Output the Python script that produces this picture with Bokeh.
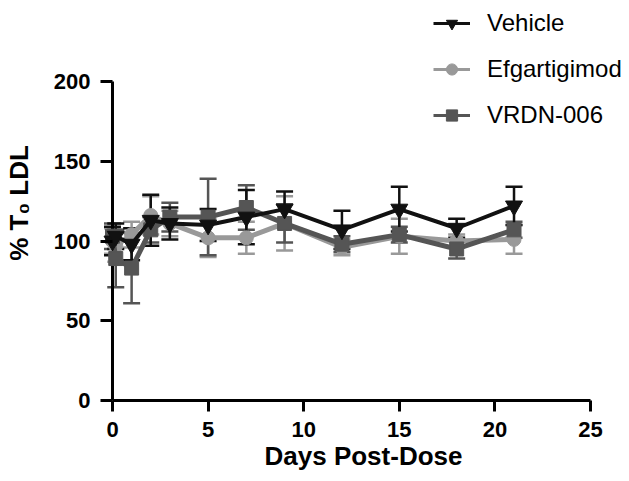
from bokeh.plotting import figure
from bokeh.models import Range1d, ColumnDataSource, Whisker, TeeHead, Legend, LegendItem
from bokeh.embed import file_html
from bokeh.resources import INLINE

days = [0, 0.17, 1, 2, 3, 5, 7, 9, 12, 15, 18, 21]

vehicle = [100, 103, 98, 113, 111, 110, 115, 120, 107, 120, 108, 122]
vehicle_err = [9, 8, 10, 16, 10, 10, 17, 11, 12, 14, 6, 12]

efgartigimod = [100, 97, 104, 116, 111, 102, 102, 111, 96, 103, 100, 101]
efgartigimod_err = [8, 10, 8, 12, 8, 12, 10, 17, 5, 11, 4, 9]

vrdn = [103, 89, 83, 107, 115, 115, 121, 111, 98, 104, 95, 107]
vrdn_err = [8, 18, 22, 8, 9, 24, 14, 12, 5, 5, 6, 5]

series_names = ["Vehicle", "Efgartigimod", "VRDN-006"]
x_ticks = [0, 5, 10, 15, 20, 25]
y_ticks = [0, 50, 100, 150, 200]

FONT = "Liberation Sans"

p = figure(frame_width=526, frame_height=395,
           x_range=Range1d(-0.6276, 26.883), y_range=Range1d(0, 247.65),
           min_border_left=100, min_border_right=0, min_border_top=5, min_border_bottom=78,
           output_backend="svg", toolbar_location=None)
p.outline_line_color = None
p.xgrid.visible = False
p.ygrid.visible = False

for ax in (p.xaxis, p.yaxis):
    ax.axis_line_width = 3
    ax.axis_line_color = "black"
    ax.major_tick_line_width = 3
    ax.major_tick_line_color = "black"
    ax.minor_tick_line_color = None
    ax.major_label_text_font = FONT
    ax.major_label_text_font_style = "bold"
    ax.major_label_text_font_size = "22px"
    ax.major_label_text_color = "black"
    ax.axis_label_text_font = FONT
    ax.axis_label_text_font_style = "bold"
    ax.axis_label_text_font_size = "26px"
    ax.axis_label_text_color = "black"

p.xaxis.ticker = x_ticks
p.yaxis.ticker = y_ticks
p.xaxis.bounds = (x_ticks[0], x_ticks[-1])
p.yaxis.bounds = (y_ticks[0], y_ticks[-1])
p.xaxis.major_tick_out = 11
p.xaxis.major_tick_in = 0
# y ticks reach from the frame edge to the axis line drawn at x = 0
p.yaxis.major_tick_out = 0
p.yaxis.major_tick_in = 12
p.yaxis.axis_line_color = None
p.xaxis.axis_label = "Days Post-Dose"
p.yaxis.axis_label = "% T\u2080 LDL"
p.xaxis.major_label_standoff = 10
p.yaxis.major_label_standoff = 10
p.xaxis.axis_label_standoff = 1
p.yaxis.axis_label_standoff = 17

# y axis line at x = 0
p.segment(x0=[x_ticks[0]], y0=[y_ticks[0]], x1=[x_ticks[0]], y1=[y_ticks[-1]],
          line_color="black", line_width=3)

colors = ["#111111", "#999999", "#555555"]
vals = [vehicle, efgartigimod, vrdn]
errs = [vehicle_err, efgartigimod_err, vrdn_err]
markers = ["inverted_triangle", "circle", "square"]
sizes = [17, 14, 14]
widths = [4, 5, 5]

sources = {}
for i in [1, 2, 0]:
    src = ColumnDataSource(dict(
        x=days, y=vals[i],
        upper=[v + e for v, e in zip(vals[i], errs[i])],
        lower=[v - e for v, e in zip(vals[i], errs[i])],
    ))
    sources[i] = src
    w = Whisker(source=src, base="x", upper="upper", lower="lower",
                line_color=colors[i], line_width=2.5,
                upper_head=TeeHead(size=17, line_color=colors[i], line_width=2.5),
                lower_head=TeeHead(size=17, line_color=colors[i], line_width=2.5))
    p.add_layout(w)
    p.line("x", "y", source=src, line_color=colors[i], line_width=widths[i])
    p.scatter("x", "y", source=src, marker=markers[i], size=sizes[i],
              fill_color=colors[i], line_color=colors[i])

# hidden legend-only renderers with the slimmer legend styling
legend_items = []
for i in range(3):
    lr = p.line("x", "y", source=sources[i], line_color=colors[i], line_width=3, visible=False)
    mr = p.scatter("x", "y", source=sources[i], marker=markers[i], size=12,
                   fill_color=colors[i], line_color=colors[i], visible=False)
    legend_items.append(LegendItem(label=series_names[i], renderers=[lr, mr]))

legend = Legend(items=legend_items,
                location=(333, 271), orientation="vertical",
                label_text_font=FONT, label_text_font_size="24px", label_text_color="black",
                glyph_width=37, glyph_height=28, label_height=28, label_standoff=17,
                spacing=18, padding=0, margin=0, inactive_fill_alpha=0,
                border_line_color=None, background_fill_alpha=0)
p.add_layout(legend, "center")

open("out.html", "w").write(file_html(p, INLINE))
